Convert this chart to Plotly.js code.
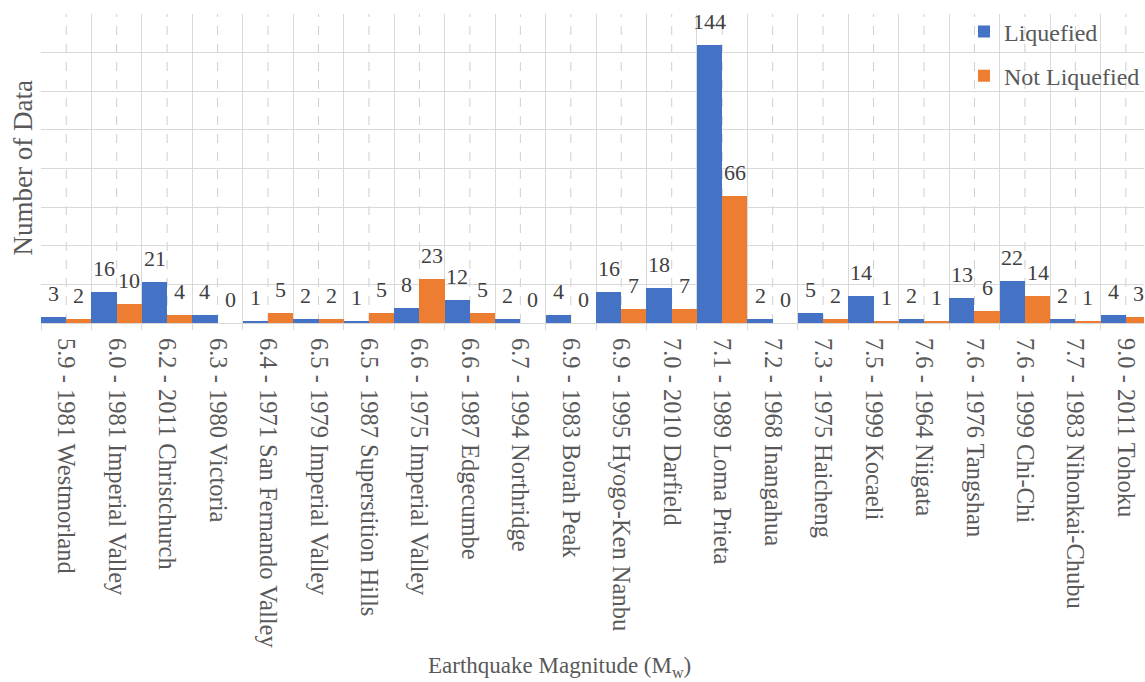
<!DOCTYPE html>
<html>
<head>
<meta charset="utf-8">
<script src="https://cdn.plot.ly/plotly-3.0.1.min.js"></script>
<style>
  html, body { margin: 0; padding: 0; background: #ffffff; overflow: hidden; }
</style>
</head>
<body>
<div id="chart"></div>
<script>
// Earthquake events (magnitude - year name)
const events = [
  "5.9 - 1981 Westmorland",
  "6.0 - 1981 Imperial Valley",
  "6.2 - 2011 Christchurch",
  "6.3 - 1980 Victoria",
  "6.4 - 1971 San Fernando Valley",
  "6.5 - 1979 Imperial Valley",
  "6.5 - 1987 Superstition Hills",
  "6.6 - 1975 Imperial Valley",
  "6.6 - 1987 Edgecumbe",
  "6.7 - 1994 Northridge",
  "6.9 - 1983 Borah Peak",
  "6.9 - 1995 Hyogo-Ken Nanbu",
  "7.0 - 2010 Darfield",
  "7.1 - 1989 Loma Prieta",
  "7.2 - 1968 Inangahua",
  "7.3 - 1975 Haicheng",
  "7.5 - 1999 Kocaeli",
  "7.6 - 1964 Niigata",
  "7.6 - 1976 Tangshan",
  "7.6 - 1999 Chi-Chi",
  "7.7 - 1983 Nihonkai-Chubu",
  "9.0 - 2011 Tohoku"
];

const liquefied    = [3, 16, 21, 4, 1, 2, 1, 8, 12, 2, 4, 16, 18, 144, 2, 5, 14, 2, 13, 22, 2, 4];
const notLiquefied = [2, 10, 4, 0, 5, 2, 5, 23, 5, 0, 0, 7, 7, 66, 0, 2, 1, 1, 6, 14, 1, 3];

const FAMILY = "Liberation Serif";

const traces = [
  {
    type: "bar", name: "Liquefied", x: events, y: liquefied,
    marker: { color: "#4472C4" }, legendgroup: "a"
  },
  {
    type: "bar", name: "Not Liquefied", x: events, y: notLiquefied,
    marker: { color: "#ED7D31" }, legendgroup: "b"
  }
];

// value labels above each bar (left half of a category = Liquefied, right half = Not Liquefied)
function valueLabels(values, offset) {
  return values.map((v, i) => ({
    x: i + offset, y: v, xref: "x", yref: "y",
    text: String(v), showarrow: false,
    xanchor: "center", yanchor: "bottom", yshift: 9,
    font: { family: FAMILY, size: 22, color: "#404040" }
  }));
}

// dashed guide through the middle of every category
const centerLines = events.map((_, i) => ({
  type: "line", xref: "x", yref: "paper", x0: i, x1: i, y0: 0, y1: 1,
  layer: "below", line: { color: "#cfcfcf", width: 1, dash: "dash" }
}));

const titles = [
  {
    text: "Number of Data", textangle: -90, showarrow: false,
    xref: "paper", yref: "paper", x: -0.0172, y: 0.5,
    xanchor: "center", yanchor: "middle",
    font: { family: FAMILY, size: 27, color: "#595959" }
  },
  {
    text: "Earthquake Magnitude (M<sub>w</sub>)", showarrow: false,
    xref: "paper", yref: "paper", x: 0.47, y: -1.112,
    xanchor: "center", yanchor: "middle",
    font: { family: FAMILY, size: 23, color: "#595959" }
  }
];

Plotly.newPlot("chart", traces, {
  width: 1145, height: 682,
  margin: { l: 41, r: 0, t: 14, b: 359 },
  paper_bgcolor: "#ffffff", plot_bgcolor: "#ffffff",
  barmode: "group", bargap: 0, bargroupgap: 0,
  xaxis: {
    type: "category", range: [-0.5, 21.36],
    tickson: "boundaries", ticks: "outside", ticklen: 6, tickcolor: "#d9d9d9",
    showgrid: true, gridcolor: "#d9d9d9", gridwidth: 1,
    showline: true, linecolor: "#d9d9d9", linewidth: 1,
    tickangle: 90, ticklabelstandoff: 9,
    tickfont: { family: FAMILY, size: 24.5, color: "#595959" }
  },
  yaxis: {
    range: [0, 160], dtick: 20, showticklabels: false,
    showgrid: true, gridcolor: "#d9d9d9", gridwidth: 1,
    zeroline: false, showline: false
  },
  shapes: centerLines,
  legend: {
    x: 0.837, xanchor: "left", y: 1.015, yanchor: "top",
    bgcolor: "rgba(0,0,0,0)", traceorder: "grouped", tracegroupgap: 10,
    font: { family: FAMILY, size: 24, color: "#595959" }
  },
  annotations: titles
    .concat(valueLabels(liquefied, -0.25))
    .concat(valueLabels(notLiquefied, 0.25))
}, { staticPlot: true });
</script>
</body>
</html>
